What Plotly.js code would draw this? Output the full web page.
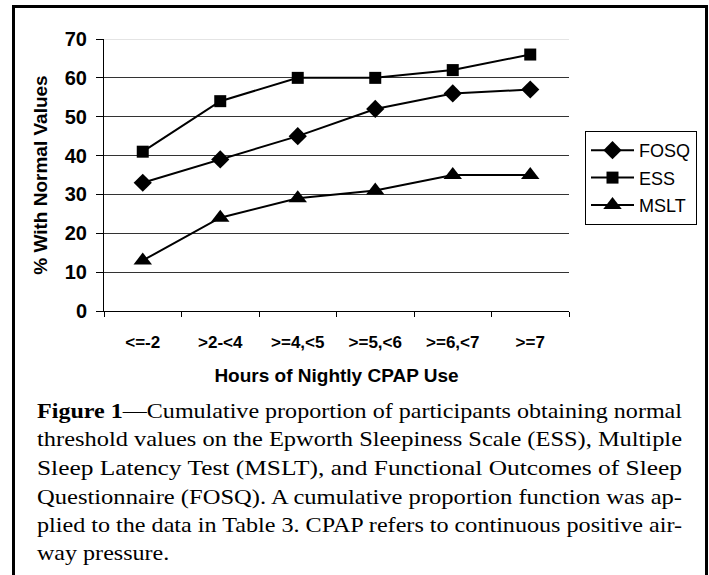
<!DOCTYPE html>
<html><head><meta charset="utf-8">
<script src="https://cdn.plot.ly/plotly-3.0.1.min.js"></script>
<style>html,body{margin:0;padding:0;background:#fff}#chart{width:709px;height:575px}</style>
</head><body><div id="chart"></div>
<script>
const categories = ['<=-2', '>2-<4', '>=4,<5', '>=5,<6', '>=6,<7', '>=7'];
const fosq = [33, 39, 45, 52, 56, 57];
const ess = [41, 54, 60, 60, 62, 66];
const mslt = [13, 24, 29, 31, 35, 35];
const yTicks = [0, 10, 20, 30, 40, 50, 60, 70];
const seriesNames = ['FOSQ', 'ESS', 'MSLT'];
const xTitle = 'Hours of Nightly CPAP Use';
const yTitle = '% With Normal Values';
const captionLines = [
  '<b>Figure 1</b>—Cumulative proportion of participants obtaining normal',
  'threshold values on the Epworth Sleepiness Scale (ESS), Multiple',
  'Sleep Latency Test (MSLT), and Functional Outcomes of Sleep',
  'Questionnaire (FOSQ). A cumulative proportion function was ap-',
  'plied to the data in Table 3. CPAP refers to continuous positive air-',
  'way pressure.'
];

const esc = s => s.replace(/</g, '&lt;').replace(/>/g, '&gt;');

// layout geometry (pixels)
const W = 709, H = 575;
const plotL = 104, plotR = 569, plotT = 39, plotB = 311;
const pw = plotR - plotL, ph = plotB - plotT;
const px2x = p => (p - plotL) / pw;
const px2y = p => (plotB - p) / ph;

const sans = '"Liberation Sans", Arial, sans-serif';
const serif = '"Liberation Serif", "Times New Roman", Times, serif';

function mk(name, y, symbol, size, grp) {
  return {
    type: 'scatter', mode: 'lines+markers', name: name, x: categories, y: y,
    legendgroup: grp,
    line: {color: '#000', width: 2},
    marker: {symbol: symbol, size: size, color: '#000', line: {width: 0}}
  };
}
const data = [
  mk(seriesNames[0], fosq, 'diamond', 14, 'a'),
  mk(seriesNames[1], ess, 'square', 12, 'b'),
  mk(seriesNames[2], mslt, 'triangle-up', 16, 'c')
];

const captionCenters = [410.5, 439.2, 467.8, 496.5, 525.1, 553.2];
const annotations = captionLines.map((t, i) => ({
  text: t, xref: 'paper', yref: 'paper', x: px2x(35), y: px2y(captionCenters[i]),
  xanchor: 'left', yanchor: 'middle', align: 'left', showarrow: false,
  font: {family: serif, size: 21, color: '#000'}
}));

const layout = {
  width: W, height: H,
  margin: {l: plotL, r: W - plotR, t: plotT, b: H - plotB, pad: 0},
  paper_bgcolor: '#fff', plot_bgcolor: '#fff',
  showlegend: true,
  legend: {
    x: px2x(585), y: px2y(131), xanchor: 'left', yanchor: 'top',
    bordercolor: '#000', borderwidth: 1, bgcolor: '#fff',
    font: {family: sans, size: 18, color: '#000'},
    tracegroupgap: 1, itemwidth: 43
  },
  xaxis: {
    type: 'category', range: [-0.5, categories.length - 0.5],
    tickvals: categories, ticktext: categories.map(esc),
    tickson: 'boundaries', ticks: 'outside', ticklen: 5, tickcolor: '#000', tickwidth: 1,
    showline: true, linecolor: '#000', linewidth: 1, showgrid: false, zeroline: false,
    ticklabelstandoff: 16,
    tickfont: {family: sans, size: 17, color: '#000', weight: 'bold'},
    title: {text: xTitle, standoff: 17, font: {family: sans, size: 19, color: '#000', weight: 'bold'}},
    automargin: false, fixedrange: true
  },
  yaxis: {
    range: [0, 70], tickvals: yTicks, ticktext: yTicks.map(String),
    ticks: 'outside', ticklen: 7, tickcolor: '#000', tickwidth: 1,
    showline: true, linecolor: '#000', linewidth: 1,
    showgrid: true, gridcolor: '#333', gridwidth: 1, zeroline: false,
    ticklabelstandoff: 5,
    tickfont: {family: sans, size: 20, color: '#000', weight: 'bold'},
    title: {text: yTitle, standoff: 12, font: {family: sans, size: 19, color: '#000', weight: 'bold'}},
    automargin: false, fixedrange: true
  },
  shapes: [
    {type: 'line', xref: 'paper', yref: 'y', x0: 0, x1: 1, y0: 70, y1: 70,
     line: {color: '#e4e4e4', width: 2}},
    {type: 'rect', xref: 'paper', yref: 'paper',
     x0: px2x(13.5), x1: px2x(706.5), y0: px2y(6.5), y1: px2y(600),
     line: {color: '#000', width: 3}, fillcolor: 'rgba(0,0,0,0)'}
  ],
  annotations: annotations
};

Plotly.newPlot('chart', data, layout, {staticPlot: true, displayModeBar: false}).then(gd => {
  const target = 645;
  let ratio = 1;
  captionLines.forEach((t, i) => {
    const el = gd.querySelector('.annotation[data-index="' + i + '"] text.annotation-text');
    if (!el) return;
    const w = el.getComputedTextLength();
    if (i === 0) ratio = target / w;
    const tw = i < captionLines.length - 1 ? target : w * ratio;
    el.setAttribute('textLength', tw);
    el.setAttribute('lengthAdjust', 'spacingAndGlyphs');
  });
});
</script></body></html>
